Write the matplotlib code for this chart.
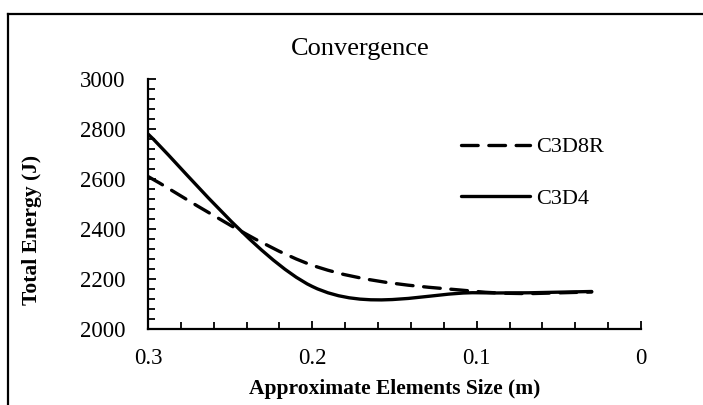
import matplotlib.pyplot as plt
from matplotlib.path import Path
from matplotlib.patches import PathPatch
from matplotlib.lines import Line2D

plt.rcParams['font.family'] = ['Liberation Serif', 'DejaVu Serif']

# element size (m) and total energy (J)
size_c3d8r = [0.3, 0.2, 0.1, 0.03]
energy_c3d8r = [2610, 2255, 2150, 2148]
size_c3d4 = [0.3, 0.2, 0.1, 0.03]
energy_c3d4 = [2780, 2170, 2145, 2150]


def smooth_path(xs, ys):
    # excel-like smoothed line: cubic bezier through the points
    n = len(xs)
    verts = [(xs[0], ys[0])]
    codes = [Path.MOVETO]
    for i in range(n - 1):
        x0, y0 = (xs[i - 1], ys[i - 1]) if i > 0 else (xs[i], ys[i])
        x3, y3 = (xs[i + 2], ys[i + 2]) if i + 2 < n else (xs[i + 1], ys[i + 1])
        c1 = (xs[i] + (xs[i + 1] - x0) / 6, ys[i] + (ys[i + 1] - y0) / 6)
        c2 = (xs[i + 1] - (x3 - xs[i]) / 6, ys[i + 1] - (y3 - ys[i]) / 6)
        verts += [c1, c2, (xs[i + 1], ys[i + 1])]
        codes += [Path.CURVE4] * 3
    return Path(verts, codes)


fig = plt.figure(figsize=(7.03, 4.05), dpi=100)
ax = fig.add_axes([148 / 703, 76 / 405, 493 / 703, 250 / 405])

lw = 2.4
ax.add_patch(PathPatch(smooth_path(size_c3d8r, energy_c3d8r), fill=False, lw=lw,
                       ls=(0, (5, 3.2)), capstyle='round', color='black'))
ax.add_patch(PathPatch(smooth_path(size_c3d4, energy_c3d4), fill=False, lw=lw,
                       color='black', capstyle='round'))

ax.set_xlim(0.3, 0)
ax.set_ylim(2000, 3000)
ax.set_xticks([0.3, 0.2, 0.1, 0])
ax.set_xticklabels(['0.3', '0.2', '0.1', '0'])
ax.set_xticks([0.3 - 0.02 * i for i in range(16)], minor=True)
ax.set_yticks([2000, 2200, 2400, 2600, 2800, 3000])
ax.set_yticks(range(2000, 3001, 40), minor=True)

for s in ['top', 'right']:
    ax.spines[s].set_visible(False)
for s in ['left', 'bottom']:
    ax.spines[s].set_linewidth(1.6)

ax.tick_params(axis='both', which='both', direction='in', width=1.3, labelsize=16.5)
ax.tick_params(axis='both', which='major', length=6)
ax.tick_params(axis='both', which='minor', length=5)
ax.tick_params(axis='x', pad=14)
ax.tick_params(axis='y', pad=16)

fig.text(32 / 703, 1 - 230 / 405, 'Total Energy (J)', rotation=90, fontsize=15.5,
         fontweight='bold', ha='center', va='center')
fig.text(395 / 703, 1 - 389 / 405, 'Approximate Elements Size (m)', fontsize=15.5,
         fontweight='bold', ha='center', va='center')
fig.text(360 / 703, 1 - 49 / 405, 'Convergence', fontsize=19, ha='center', va='center')

# legend drawn by hand to match the original placement
handles = [Line2D([], [], color='black', lw=lw, ls=(0, (5, 3.2)), dash_capstyle='round'),
           Line2D([], [], color='black', lw=lw, solid_capstyle='round')]
leg = fig.legend(handles, ['C3D8R', 'C3D4'], loc='upper left',
                 bbox_to_anchor=(452 / 703, 1 - 128 / 405), frameon=False,
                 fontsize=16, handlelength=3.1, handletextpad=0.3, labelspacing=1.4,
                 borderaxespad=0)

# outer frame (top and left only visible)
fig.add_artist(Line2D([8 / 703, 8 / 703], [0, 1 - 14 / 405], color='black', lw=1.6,
                      transform=fig.transFigure))
fig.add_artist(Line2D([8 / 703, 1], [1 - 14 / 405, 1 - 14 / 405], color='black', lw=1.6,
                      transform=fig.transFigure))

fig.savefig('out.png', dpi=100)
